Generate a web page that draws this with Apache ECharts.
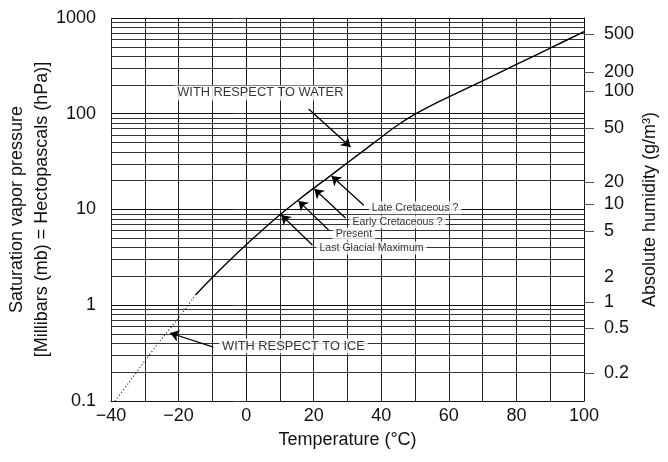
<!DOCTYPE html>
<html>
<head>
<meta charset="utf-8">
<script src="https://cdn.jsdelivr.net/npm/echarts@6/dist/echarts.min.js"></script>
<style>html,body{margin:0;padding:0;background:#fff}#c{width:668px;height:462px}</style>
</head>
<body>
<div id="c"></div>
<script>
// Temperature (°C) and saturation vapor pressure (hPa)
var iceTemp = [-38.8, -35, -30, -25, -20, -15];
var iceVapor = [0.1, 0.151, 0.262, 0.445, 0.736, 1.28];
var waterTemp = [-15, -10, -5, 0, 5, 10, 15, 20, 25, 30, 35, 40, 45, 50, 55, 60, 70, 80, 90, 100];
var waterVapor = [1.28, 1.95, 2.92, 4.29, 6.19, 8.81, 12.2, 16.7, 22.6, 30.8, 41.7, 56.9, 76.7, 98.9, 123, 150, 221, 327, 485, 719];

// left axis minor grid values
var minorGrid = [0.2,0.3,0.4,0.5,0.6,0.7,0.8,0.9, 2,3,4,5,6,7,8,9, 20,30,40,50,60,70,80,90, 200,300,400,500,600,700,800,900];

// right axis: absolute humidity labels and their positions (hPa-equivalent on the left scale)
var rightLabels = ['500', '200', '100', '50', '20', '10', '5', '2', '1', '0.5', '0.2'];
var rightLabelPos = [681, 273, 173, 71, 19.4, 11.4, 5.96, 1.97, 1.08, 0.578, 0.196];
var rightTickPos = [681, 273, 173, 71, 19.4, 11.4, 5.96, 1.08, 0.578, 0.196];

// annotations: [temperature, pressure, text, kind]
var noteTexts = [
  [4.2, 165, 'WITH RESPECT TO WATER', 'caps'],
  [14.0, 0.375, 'WITH RESPECT TO ICE', 'caps'],
  [36.3, 10.4, 'Late Cretaceous ?', 'small'],
  [30.6, 7.40, 'Early Cretaceous ?', 'small'],
  [25.6, 5.55, 'Present', 'small'],
  [20.8, 3.96, 'Last Glacial Maximum', 'small']
];
// arrows: [fromT, fromE, toT, toE]
var arrows = [
  [18.5, 112, 30.9, 45],
  [-9.7, 0.366, -22.5, 0.513],
  [34.8, 11.1, 25.3, 22.4],
  [29.4, 8.15, 20.2, 16.4],
  [24.4, 6.11, 15.5, 12.3],
  [19.6, 4.26, 10.4, 8.77]
];

var FONT = '"Liberation Sans", Arial, Helvetica, sans-serif';
function zip(a, b) { return a.map(function (v, i) { return [v, b[i]]; }); }

var chart = echarts.init(document.getElementById('c'), null, {renderer: 'canvas'});
chart.setOption({
  animation: false,
  backgroundColor: '#fff',
  textStyle: {fontFamily: FONT},
  grid: {left: 111, right: 84, top: 18, bottom: 61, containLabel: false, outerBoundsMode: 'none'},
  xAxis: {
    type: 'value', min: -40, max: 100, interval: 10,
    name: 'Temperature (°C)', nameLocation: 'middle', nameGap: 30, nameMoveOverlap: false,
    nameTextStyle: {fontSize: 18, color: '#111', fontFamily: FONT},
    axisLine: {show: true, lineStyle: {color: '#111', width: 1}},
    axisTick: {show: false},
    axisLabel: {
      margin: 6, fontSize: 18, color: '#111', fontFamily: FONT,
      formatter: function (v) { if (v % 20 !== 0) return ''; return v < 0 ? '\u2212' + Math.abs(v) : String(v); }
    },
    splitLine: {show: true, lineStyle: {color: '#222', width: 1}}
  },
  yAxis: [{
    type: 'log', min: 0.1, max: 1000, logBase: 10,
    name: 'Saturation vapor pressure\n[Millibars (mb) = Hectopascals (hPa)]',
    nameLocation: 'middle', nameGap: 56, nameRotate: 90, nameMoveOverlap: false,
    nameTextStyle: {fontSize: 18, color: '#111', fontFamily: FONT, lineHeight: 25},
    axisLine: {show: true, lineStyle: {color: '#111', width: 1}},
    axisTick: {show: true, inside: false, length: 13, lineStyle: {color: '#333'}},
    axisLabel: {margin: 15, fontSize: 18, color: '#111', fontFamily: FONT,
      formatter: function (v) { return String(+(+v).toPrecision(6)); }},
    splitLine: {show: true, lineStyle: {color: '#111', width: 1}}
  }, {
    type: 'log', min: 0.1, max: 1000, logBase: 10, position: 'right',
    name: 'Absolute humidity (g/m\u00B3)',
    nameLocation: 'middle', nameGap: 57, nameRotate: 90, nameMoveOverlap: false,
    nameTextStyle: {fontSize: 18, color: '#111', fontFamily: FONT},
    axisLine: {show: true, lineStyle: {color: '#111', width: 1}},
    axisTick: {show: true, inside: false, length: 10, customValues: rightTickPos, lineStyle: {color: '#555'}},
    axisLabel: {margin: 20, fontSize: 18, color: '#111', fontFamily: FONT, customValues: rightLabelPos,
      formatter: function (v) {
        var best = 0, bd = 1e9;
        rightLabelPos.forEach(function (p, i) { var d = Math.abs(Math.log(p) - Math.log(v)); if (d < bd) { bd = d; best = i; } });
        return rightLabels[best];
      }},
    splitLine: {show: false}
  }],
  series: [{
    type: 'line', name: 'grid', data: [], silent: true,
    markLine: {
      silent: true, symbol: ['none', 'none'], animation: false,
      label: {show: false},
      emphasis: {disabled: true},
      lineStyle: {color: '#333', width: 1, type: 'solid'},
      data: minorGrid.map(function (v) { return {yAxis: v}; })
    }
  }, {
    type: 'line', name: 'ice', data: zip(iceTemp, iceVapor), showSymbol: false, smooth: 0.3,
    lineStyle: {color: '#444', width: 1.2, type: [1.2, 2.2]}, z: 5
  }, {
    type: 'line', name: 'water', data: zip(waterTemp, waterVapor), showSymbol: false, smooth: 0.3,
    lineStyle: {color: '#000', width: 1.4}, z: 5
  }, {
    type: 'line', name: 'arrows', data: [], silent: true, z: 6,
    markLine: {
      silent: true, symbol: ['none', 'arrow'], symbolSize: 9, animation: false,
      label: {show: false},
      emphasis: {disabled: true},
      lineStyle: {color: '#000', width: 1.3, type: 'solid'},
      data: arrows.map(function (a) { return [{coord: [a[0], a[1]]}, {coord: [a[2], a[3]]}]; })
    }
  }, {
    type: 'scatter', name: 'notes', symbolSize: 0, silent: true, z: 7,
    data: noteTexts.map(function (n) {
      var caps = n[3] === 'caps';
      return {
        value: [n[0], n[1]], name: n[2],
        label: caps ? {fontSize: 12.8, align: 'center', position: 'inside'} :
                      {fontSize: 10.6, position: 'right', distance: 0, align: 'left'}
      };
    }),
    label: {
      show: true, color: '#000', fontFamily: FONT,
      backgroundColor: '#fff', padding: [1, 3],
      formatter: function (p) { return p.name; }
    }
  }]
});
</script>
</body>
</html>
